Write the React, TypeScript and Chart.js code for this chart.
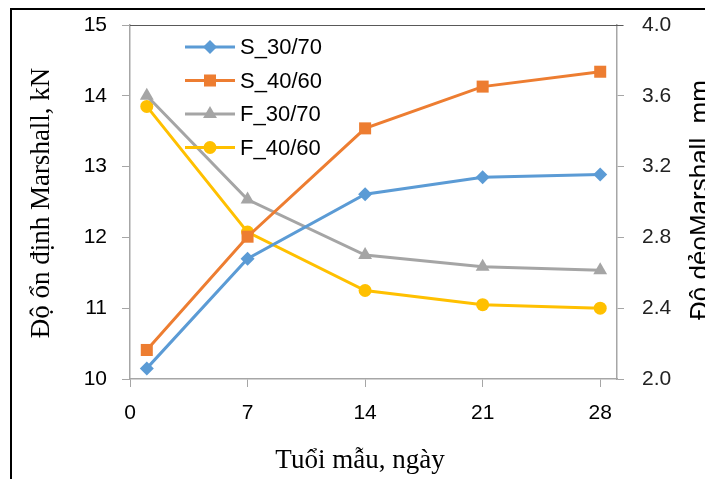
import React, { useEffect, useRef } from "react";
import { Chart, registerables } from "chart.js";

Chart.register(...registerables);

const ages = [1, 7, 14, 21, 28];
const s3070 = [10.15, 11.7, 12.61, 12.85, 12.89];
const s4060 = [10.41, 12.01, 13.54, 14.13, 14.34];
const f3070 = [3.6, 3.014, 2.7, 2.634, 2.614];
const f4060 = [3.54, 2.83, 2.5, 2.42, 2.4];
const xTicks = [0, 7, 14, 21, 28];
const leftTicks = [10, 11, 12, 13, 14, 15];
const rightTicks = [2.0, 2.4, 2.8, 3.2, 3.6, 4.0];
const seriesNames = ["S_30/70", "S_40/60", "F_30/70", "F_40/60"];
const seriesColors = ["#5B9BD5", "#ED7D31", "#A5A5A5", "#FFC000"];
const seriesMarkers = ["rectRot", "rect", "triangle", "circle"];
const markerRadii = [7, 8.5, 8, 6.5];
const xTitle = "Tuổi mẫu, ngày";
const leftTitle = "Độ ổn định Marshall, kN";
const rightTitle = "Độ dẻoMarshall, mm";

const W = 705;
const H = 479;

function drawMarker(ctx: CanvasRenderingContext2D, style: string, x: number, y: number, r: number, color: string) {
  ctx.save();
  ctx.fillStyle = color;
  ctx.beginPath();
  if (style === "rectRot") {
    ctx.moveTo(x, y - r);
    ctx.lineTo(x + r, y);
    ctx.lineTo(x, y + r);
    ctx.lineTo(x - r, y);
    ctx.closePath();
  } else if (style === "rect") {
    const s = r * Math.SQRT1_2;
    ctx.rect(x - s, y - s, 2 * s, 2 * s);
  } else if (style === "triangle") {
    ctx.moveTo(x, y - r);
    ctx.lineTo(x + r * Math.sin(Math.PI / 3), y + r * 0.5);
    ctx.lineTo(x - r * Math.sin(Math.PI / 3), y + r * 0.5);
    ctx.closePath();
  } else {
    ctx.arc(x, y, r, 0, Math.PI * 2);
  }
  ctx.fill();
  ctx.restore();
}

const decorPlugin = {
  id: "decor",
  afterDatasetsDraw(chart: any) {
    const ctx: CanvasRenderingContext2D = chart.ctx;
    const a = chart.chartArea;
    ctx.save();
    // plot top border
    ctx.strokeStyle = "#595959";
    ctx.lineWidth = 1;
    ctx.beginPath();
    ctx.moveTo(a.left, Math.round(a.top) + 0.5);
    ctx.lineTo(a.right + 6, Math.round(a.top) + 0.5);
    ctx.stroke();

    // legend
    const rowsY = [47, 80.5, 114, 147.5];
    seriesNames.forEach((name, i) => {
      const y = rowsY[i];
      ctx.strokeStyle = seriesColors[i];
      ctx.lineWidth = 3;
      ctx.beginPath();
      ctx.moveTo(185, y);
      ctx.lineTo(235, y);
      ctx.stroke();
      drawMarker(ctx, seriesMarkers[i], 210, y, markerRadii[i], seriesColors[i]);
      ctx.fillStyle = "#000";
      ctx.font = "22px 'Liberation Sans', Arial, sans-serif";
      ctx.textAlign = "left";
      ctx.textBaseline = "middle";
      ctx.fillText(name, 240, y + 1);
    });

    // titles
    ctx.fillStyle = "#000";
    ctx.font = "27px 'Liberation Serif', 'Times New Roman', serif";
    ctx.textAlign = "center";
    ctx.textBaseline = "middle";
    ctx.fillText(xTitle, 360, 461);

    ctx.save();
    ctx.translate(42, 203);
    ctx.rotate(-Math.PI / 2);
    ctx.fillText(leftTitle, 0, 0);
    ctx.restore();

    ctx.save();
    ctx.translate(701, 200);
    ctx.rotate(-Math.PI / 2);
    ctx.font = "26px 'Liberation Sans', Arial, sans-serif";
    ctx.fillText(rightTitle, 0, 0);
    ctx.restore();

    // outer frame
    ctx.fillStyle = "#000";
    ctx.fillRect(10, 8, 2, H - 8);
    ctx.fillRect(10, 8, W - 10, 2);
    ctx.restore();
  },
};

export default function App() {
  const ref = useRef<HTMLCanvasElement | null>(null);
  useEffect(() => {
    if (!ref.current) return;
    const mk = (i: number, data: number[], axis: string) => ({
      label: seriesNames[i],
      data: ages.map((x, k) => ({ x, y: data[k] })),
      yAxisID: axis,
      borderColor: seriesColors[i],
      backgroundColor: seriesColors[i],
      borderWidth: 3,
      pointStyle: seriesMarkers[i],
      pointRadius: markerRadii[i],
      pointBorderWidth: 0,
      pointBackgroundColor: seriesColors[i],
      showLine: true,
      tension: 0,
    });
    const tickFont = { family: "'Liberation Sans', Arial, sans-serif", size: 21 };
    const chart = new Chart(ref.current, {
      type: "scatter",
      data: {
        datasets: [
          mk(0, s3070, "y"),
          mk(1, s4060, "y"),
          mk(2, f3070, "y2"),
          mk(3, f4060, "y2"),
        ],
      },
      plugins: [decorPlugin],
      options: {
        animation: false,
        responsive: false,
        maintainAspectRatio: false,
        devicePixelRatio: 1,
        layout: { padding: { top: 25, left: 0, right: 0, bottom: 0 } },
        plugins: { legend: { display: false }, tooltip: { enabled: false } },
        scales: {
          x: {
            type: "linear",
            position: "bottom",
            min: 0,
            max: 29,
            afterBuildTicks: (s: any) => {
              s.ticks = xTicks.map((v) => ({ value: v }));
            },
            afterFit: (s: any) => {
              s.height = H - 379;
              s.paddingLeft = 0;
              s.paddingRight = 0;
            },
            ticks: { font: tickFont, color: "#000", padding: 14, maxRotation: 0 },
            grid: { drawOnChartArea: false, tickLength: 8, color: "#A6A6A6" },
            border: { color: "#A6A6A6", width: 1.5 },
          },
          y: {
            position: "left",
            min: 10,
            max: 15,
            afterBuildTicks: (s: any) => {
              s.ticks = leftTicks.map((v) => ({ value: v }));
            },
            afterFit: (s: any) => {
              s.width = 130;
              s.paddingTop = 0;
              s.paddingBottom = 0;
            },
            ticks: { font: tickFont, color: "#000", padding: 15 },
            grid: { drawOnChartArea: false, tickLength: 8, color: "#A6A6A6" },
            border: { color: "#A6A6A6", width: 1.5 },
          },
          y2: {
            position: "right",
            min: 2,
            max: 4,
            afterBuildTicks: (s: any) => {
              s.ticks = rightTicks.map((v) => ({ value: v }));
            },
            afterFit: (s: any) => {
              s.width = W - 617;
              s.paddingTop = 0;
              s.paddingBottom = 0;
            },
            ticks: {
              font: tickFont,
              color: "#222",
              padding: 18,
              callback: (v: any) => Number(v).toFixed(1),
            },
            grid: { drawOnChartArea: false, tickLength: 7, color: "#A6A6A6" },
            border: { color: "#A6A6A6", width: 1.5 },
          },
        },
      } as any,
    });
    return () => chart.destroy();
  }, []);
  return (
    <div style={{ position: "absolute", left: 0, top: 0, width: W, height: H, background: "#fff" }}>
      <canvas ref={ref} width={W} height={H} style={{ display: "block", width: W, height: H }} />
    </div>
  );
}
